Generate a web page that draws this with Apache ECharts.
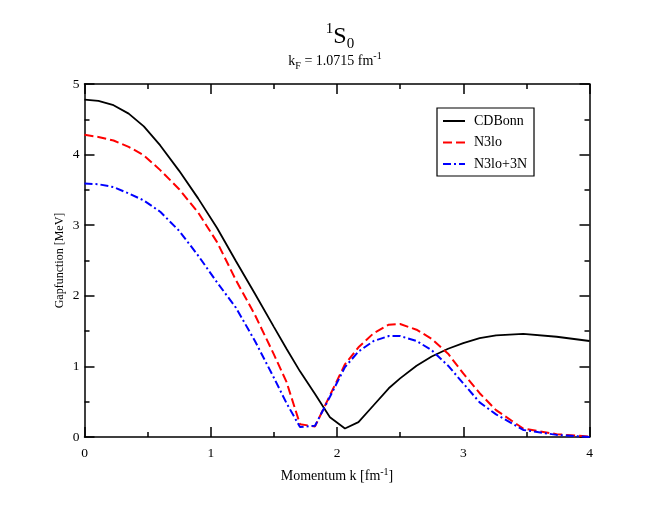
<!DOCTYPE html>
<html><head><meta charset="utf-8">
<script src="https://cdn.jsdelivr.net/npm/echarts@6/dist/echarts.min.js"></script>
<style>html,body{margin:0;padding:0;background:#fff}#c{width:654px;height:505px}</style>
</head><body><div id="c"></div>
<script>
// Momentum grid k [fm^-1]
const momentum = [0, 0.11, 0.23, 0.35, 0.47, 0.6, 0.75, 0.9, 1.05, 1.2, 1.35, 1.5, 1.6, 1.707, 1.826, 1.944, 2.063, 2.17, 2.29, 2.41, 2.5, 2.63, 2.75, 2.88, 3.0, 3.13, 3.26, 3.475, 3.74, 4.0];
// Gap function [MeV]
const cdBonn = [4.78, 4.76, 4.70, 4.58, 4.40, 4.13, 3.77, 3.38, 2.96, 2.49, 2.03, 1.56, 1.25, 0.93, 0.61, 0.28, 0.12, 0.21, 0.45, 0.69, 0.83, 1.01, 1.14, 1.25, 1.33, 1.40, 1.44, 1.46, 1.42, 1.36];
const n3lo = [4.28, 4.25, 4.20, 4.11, 3.99, 3.78, 3.51, 3.18, 2.76, 2.22, 1.73, 1.17, 0.78, 0.18, 0.15, 0.59, 1.03, 1.27, 1.47, 1.59, 1.60, 1.52, 1.39, 1.18, 0.90, 0.62, 0.38, 0.12, 0.04, 0.005];
const n3lo3N = [3.59, 3.58, 3.54, 3.45, 3.35, 3.19, 2.92, 2.57, 2.19, 1.83, 1.36, 0.84, 0.48, 0.14, 0.16, 0.57, 0.99, 1.21, 1.36, 1.43, 1.43, 1.36, 1.23, 1.01, 0.76, 0.49, 0.32, 0.10, 0.03, 0.0];
const seriesNames = ['CDBonn', 'N3lo', 'N3lo+3N'];
const xRange = [0, 4, 1];
const yRange = [0, 5, 1];

const FONT = '"Liberation Serif", "DejaVu Serif", serif';
const chart = echarts.init(document.getElementById('c'));
const pair = arr => momentum.map((k, i) => [k, arr[i]]);
const axisLineStyle = { color: '#000', width: 1.5 };
function mkX(pos, show) {
  return {
    type: 'value', position: pos, min: xRange[0], max: xRange[1], interval: xRange[2],
    axisLine: { show: true, onZero: false, lineStyle: axisLineStyle },
    axisTick: { show: true, inside: true, length: 10, lineStyle: axisLineStyle },
    minorTick: { show: true, splitNumber: 2, length: 5, lineStyle: axisLineStyle },
    splitLine: { show: false },
    axisLabel: { show: show, margin: 9, color: '#000', fontFamily: FONT, fontSize: 13.5 },
    name: show ? 'Momentum k [fm{sp|-1}]' : '',
    nameLocation: 'middle', nameGap: 30,
    nameTextStyle: { color: '#000', fontFamily: FONT, fontSize: 14, lineHeight: 18,
      rich: { sp: { fontSize: 10, fontFamily: FONT, color: '#000', verticalAlign: 'top', lineHeight: 8 } } }
  };
}
function mkY(pos, show) {
  return {
    type: 'value', position: pos, min: yRange[0], max: yRange[1], interval: yRange[2],
    axisLine: { show: true, onZero: false, lineStyle: axisLineStyle },
    axisTick: { show: true, inside: true, length: 10, lineStyle: axisLineStyle },
    minorTick: { show: true, splitNumber: 2, length: 5, lineStyle: axisLineStyle },
    splitLine: { show: false },
    axisLabel: { show: show, margin: 5, color: '#000', fontFamily: FONT, fontSize: 13.5 },
    name: show ? 'Gapfunction [MeV]' : '',
    nameLocation: 'middle', nameGap: 19, nameMoveOverlap: false,
    nameTextStyle: { color: '#000', fontFamily: FONT, fontSize: 12 }
  };
}
chart.setOption({
  animation: false,
  backgroundColor: '#fff',
  grid: { left: 84.5, right: 64.5, top: 84, bottom: 68, outerBoundsMode: 'none' },
  xAxis: [mkX('bottom', true), mkX('top', false)],
  yAxis: [mkY('left', true), mkY('right', false)],
  legend: {
    data: seriesNames, orient: 'vertical', left: 437, top: 108,
    borderColor: '#000', borderWidth: 1.2, backgroundColor: '#fff',
    padding: [6, 7, 5, 5], itemWidth: 22, itemHeight: 14, itemGap: 7.5,
    itemStyle: { opacity: 0 },
    textStyle: { color: '#000', fontFamily: FONT, fontSize: 14, padding: [0, 0, 0, 4] }
  },
  graphic: [
    { type: 'text', x: 340, y: 22, style: {
      text: '{sup|1}{s|S}{sub|0}', align: 'center', verticalAlign: 'top', fill: '#000',
      rich: {
        sup: { fontSize: 15, fontFamily: FONT, fill: '#000', color: '#000', verticalAlign: 'top', lineHeight: 14 },
        s: { fontSize: 24, fontFamily: FONT, fill: '#000', color: '#000', verticalAlign: 'middle', lineHeight: 30 },
        sub: { fontSize: 15, fontFamily: FONT, fill: '#000', color: '#000', verticalAlign: 'bottom', lineHeight: 16 }
      } } },
    { type: 'text', x: 335, y: 51.3, style: {
      text: '{n|k}{sb|F}{n| = 1.0715 fm}{sp|-1}', align: 'center', verticalAlign: 'top', fill: '#000',
      rich: {
        n: { fontSize: 14, fontFamily: FONT, fill: '#000', color: '#000', verticalAlign: 'middle', lineHeight: 20 },
        sb: { fontSize: 10, fontFamily: FONT, fill: '#000', color: '#000', verticalAlign: 'bottom', lineHeight: 10 },
        sp: { fontSize: 10, fontFamily: FONT, fill: '#000', color: '#000', verticalAlign: 'top', lineHeight: 8 }
      } } }
  ],
  series: [
    { name: seriesNames[0], type: 'line', data: pair(cdBonn), symbol: 'none', xAxisIndex: 0, yAxisIndex: 0,
      lineStyle: { color: '#000', width: 1.8, type: 'solid' }, itemStyle: { color: '#000' } },
    { name: seriesNames[1], type: 'line', data: pair(n3lo), symbol: 'none', xAxisIndex: 0, yAxisIndex: 0,
      lineStyle: { color: '#ff0000', width: 2, type: [9, 4] }, itemStyle: { color: '#ff0000' } },
    { name: seriesNames[2], type: 'line', data: pair(n3lo3N), symbol: 'none', xAxisIndex: 0, yAxisIndex: 0,
      lineStyle: { color: '#0000ff', width: 2, type: [8, 3, 2, 3] }, itemStyle: { color: '#0000ff' } }
  ]
});
</script></body></html>
